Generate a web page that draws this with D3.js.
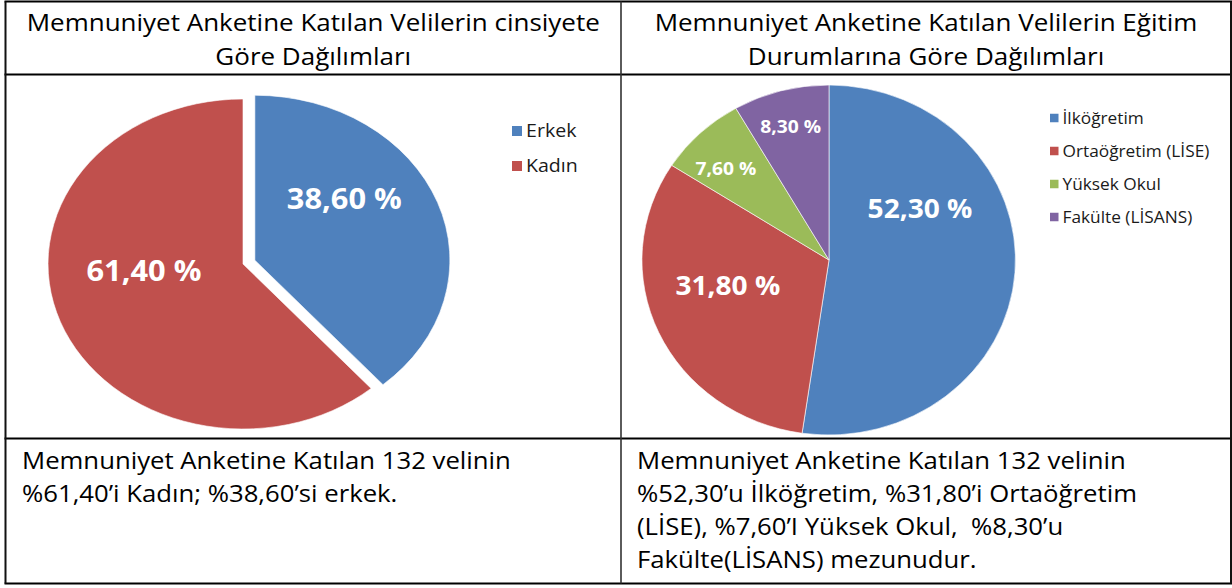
<!doctype html>
<html>
<head>
<meta charset="utf8">
<script src="https://cdn.jsdelivr.net/npm/d3@7"></script>
<style>
    body { margin: 0; background: #fff; }
    text { font-family: "Open Sans", "Noto Sans", sans-serif; }
    .head { font-size: 23px; fill: #000; }
    .note { font-size: 24.5px; fill: #000; white-space: pre; }
    .pct { font-weight: bold; fill: #fff; }
    .leg { fill: #1a1a1a; }
</style>
</head>
<body>
<svg width="1232" height="588"></svg>
<script>

    // data
    var genderCats = ["Erkek", "Kadın"];
    var genderVals = [38.6, 61.4];

    var eduCats = ["İlköğretim", "Ortaöğretim (LİSE)", "Yüksek Okul", "Fakülte (LİSANS)"];
    var eduVals = [52.3, 31.8, 7.6, 8.3];

    var leftTitle = ["Memnuniyet Anketine Katılan Velilerin cinsiyete", "Göre Dağılımları"];
    var rightTitle = ["Memnuniyet Anketine Katılan Velilerin Eğitim", "Durumlarına Göre Dağılımları"];

    var leftNote = ["Memnuniyet Anketine Katılan 132 velinin", "%61,40’i Kadın; %38,60’si erkek."];
    var rightNote = ["Memnuniyet Anketine Katılan 132 velinin",
                     "%52,30’u İlköğretim, %31,80’i Ortaöğretim",
                     "(LİSE), %7,60’I Yüksek Okul,  %8,30’u",
                     "Fakülte(LİSANS) mezunudur."];

    var colors = ["#4F81BD", "#C0504D", "#9BBB59", "#8064A2"];

    var svg = d3.select("svg");

    // table grid
    var colX = [5.5, 621, 1231];
    var rowY = [1.5, 74.5, 438.5, 583.5];

    rowY.forEach(function(y) {
        svg.append("line")
           .attr("x1", colX[0] - 1).attr("x2", 1232)
           .attr("y1", y).attr("y2", y)
           .attr("stroke", "#000").attr("stroke-width", 2.2);
    });
    colX.forEach(function(x, i) {
        svg.append("line")
           .attr("x1", x).attr("x2", x)
           .attr("y1", rowY[0]).attr("y2", rowY[3])
           .attr("stroke", i == 1 ? "#333" : "#111")
           .attr("stroke-width", i == 1 ? 1.6 : 2);
    });

    // the original picture is a bit stretched sideways, so text gets a scaleX
    function place(x, y, sx) {
        return "translate(" + x + "," + y + ") scale(" + sx + ",1)";
    }

    // titles
    function title(lines, cx) {
        svg.selectAll(null)
           .data(lines)
           .enter().append("text")
           .attr("class", "head")
           .attr("transform", function(d, i) { return place(cx, 31 + i * 34, 1.13); })
           .attr("text-anchor", "middle")
           .text(function(d) { return d; });
    }
    title(leftTitle, (colX[0] + colX[1]) / 2);
    title(rightTitle, (colX[1] + colX[2]) / 2);

    // notes
    function note(lines, x) {
        svg.selectAll(null)
           .data(lines)
           .enter().append("text")
           .attr("class", "note")
           .attr("transform", function(d, i) { return place(x, 469 + i * 33, 1.05); })
           .text(function(d) { return d; });
    }
    note(leftNote, 22);
    note(rightNote, 637);

    function fmt(v) { return v.toFixed(2).replace(".", ",") + " %"; }

    var pie = d3.pie().sort(null).value(function(d) { return d; });
    var arc = d3.arc().innerRadius(0).outerRadius(1);

    // draws an elliptical pie: the image is stretched, so rx and ry differ
    function drawPie(vals, o) {
        var g = svg.append("g")
                   .attr("transform", "translate(" + o.cx + "," + o.cy + ")");
        var arcs = pie(vals);

        arcs.forEach(function(a, i) {
            var mid = (a.startAngle + a.endAngle) / 2;
            var e = o.explode[i] || 0;
            var ox = e * Math.sin(mid) * o.rx,
                oy = -e * Math.cos(mid) * o.ry;

            g.append("path")
             .attr("d", arc(a))
             .attr("transform", "translate(" + ox + "," + oy + ") scale(" + o.rx + "," + o.ry + ")")
             .attr("fill", colors[i])
             .attr("stroke", "rgba(255,255,255,0.6)")
             .attr("stroke-width", 1)
             .attr("vector-effect", "non-scaling-stroke");

            var lp = o.labels[i];
            var ang = lp[0] * Math.PI / 180;
            g.append("text")
             .attr("class", "pct")
             .attr("transform", place(ox + Math.sin(ang) * lp[1] * o.rx,
                                      oy - Math.cos(ang) * lp[1] * o.ry, o.sx))
             .attr("dy", "0.36em")
             .attr("text-anchor", "middle")
             .style("font-size", lp[2] + "px")
             .text(fmt(vals[i]));
        });
    }

    drawPie(genderVals, {
        cx: 243, cy: 264, rx: 195, ry: 165, sx: 1.1,
        explode: [0.065, 0],
        labels: [[51, 0.59, 28], [265, 0.51, 28]]
    });

    drawPie(eduVals, {
        cx: 829, cy: 260, rx: 187, ry: 175, sx: 1.04,
        explode: [],
        labels: [[58.6, 0.57, 27], [255, 0.56, 27], [313.5, 0.76, 18.5], [345, 0.79, 18.5]]
    });

    // legends
    function legend(cats, x, y0, step, size, fs, sx) {
        var lg = svg.append("g").attr("transform", "translate(" + x + "," + y0 + ")");
        var item = lg.selectAll("g")
                     .data(cats)
                     .enter().append("g")
                     .attr("transform", function(d, i) { return "translate(0," + i * step + ")"; });
        item.append("rect")
            .attr("x", 0).attr("y", -size / 2)
            .attr("width", size).attr("height", size)
            .attr("fill", function(d, i) { return colors[i]; });
        item.append("text")
            .attr("class", "leg")
            .attr("transform", place(size + 4, 0, sx))
            .attr("dy", "0.35em")
            .style("font-size", fs + "px")
            .text(function(d) { return d; });
    }
    legend(genderCats, 512, 131, 35, 10, 17.5, 1.12);
    legend(eduCats, 1050, 118, 33, 8.5, 16, 1.08);

</script>
</body>
</html>
